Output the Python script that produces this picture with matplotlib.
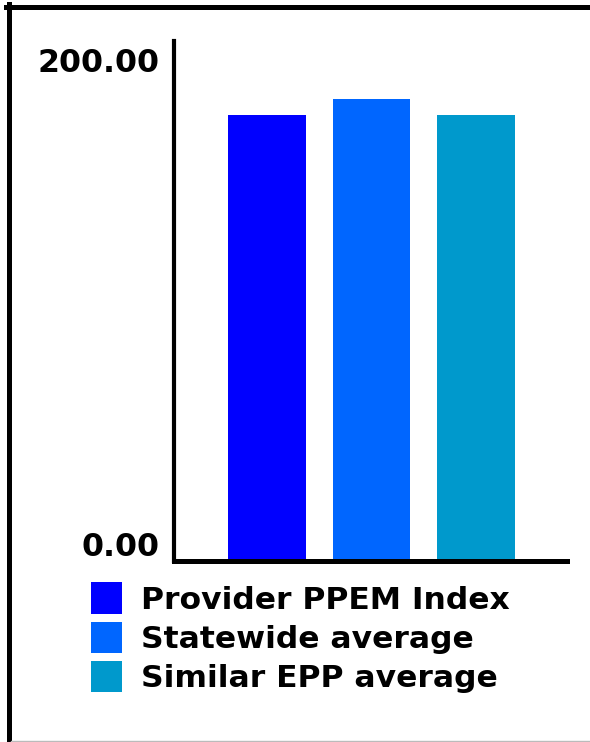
import matplotlib.pyplot as plt
from matplotlib.lines import Line2D
from matplotlib.patches import Patch
import matplotlib.transforms as mtransforms

# bar values (index per member month)
labels = ["Provider PPEM Index", "Statewide average", "Similar EPP average"]
values = [171.5, 177.7, 171.5]
colors = ["#0000FF", "#0066FF", "#0099CC"]
yticks = [0, 200]
ytick_labels = ["0.00", "200.00"]

W, H = 590, 742
fig = plt.figure(figsize=(W / 100, H / 100), dpi=100)
plt.rcParams['font.family'] = ['DejaVu Sans']

ax = fig.add_axes([173.5 / W, (H - 561) / H, (567 - 173.5) / W, 520 / H])
x = list(range(len(values)))
ax.bar(x, values, width=0.746, color=colors, edgecolor='none')
ax.set_xlim(-0.895, 2.871)
ax.set_ylim(0, 200)

ax.set_xticks([])
ax.set_yticks(yticks)
ax.set_yticklabels(ytick_labels, fontsize=22.8, fontweight='bold')
ax.tick_params(axis='y', length=0, pad=10)
for lbl, va in zip(ax.get_yticklabels(), ["bottom", "top"]):
    lbl.set_va(va)
    dy = -1.7 / 72 if va == "bottom" else -5 / 72
    lbl.set_transform(lbl.get_transform() +
                      mtransforms.ScaledTranslation(0, dy, fig.dpi_scale_trans))

for side in ["top", "right"]:
    ax.spines[side].set_visible(False)
ax.spines["left"].set_linewidth(3.0)
ax.spines["bottom"].set_linewidth(3.6)

handles = [Patch(facecolor=c, edgecolor='none') for c in colors]
fig.legend(handles, labels, loc='upper left',
           bbox_to_anchor=(91 / W, 1 - 582.5 / H),
           frameon=False, borderpad=0, borderaxespad=0,
           handlelength=1.0, handleheight=1.15, handletextpad=0.6,
           labelspacing=0.22,
           prop={'size': 22.6, 'weight': 'bold'})

# outer frame: heavy left and top edges, thin grey bottom edge
fig.add_artist(Line2D([8.5 / W, 8.5 / W], [0, 1 - 4 / H], color='black', lw=3.6))
fig.add_artist(Line2D([6 / W, 1], [1 - 6.5 / H, 1 - 6.5 / H], color='black', lw=3.6))
fig.add_artist(Line2D([11 / W, 1], [1 - 740.5 / H, 1 - 740.5 / H], color='#BBBBBB', lw=1.0))

fig.savefig("out.png", dpi=100)
